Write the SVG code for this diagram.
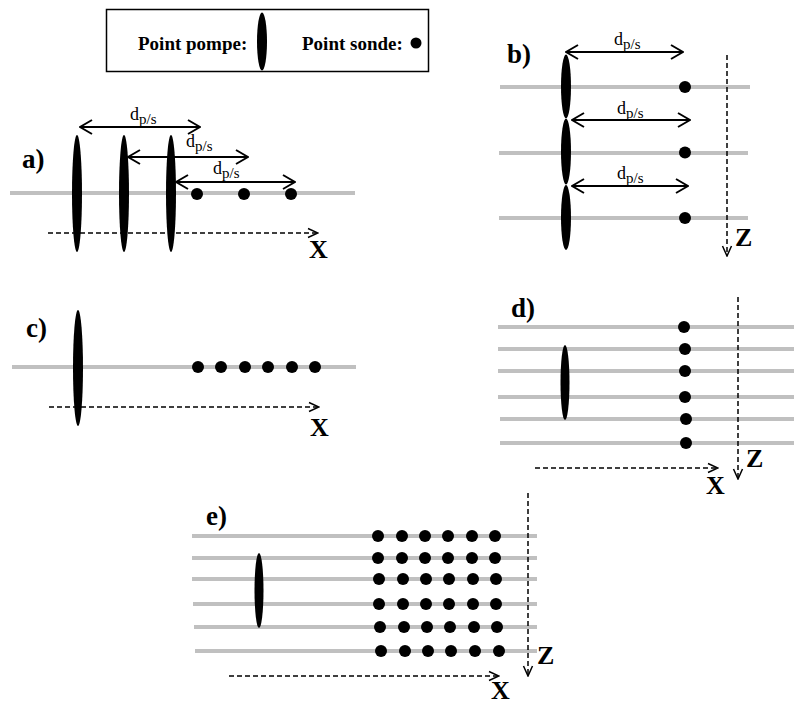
<svg xmlns="http://www.w3.org/2000/svg" width="794" height="704" viewBox="0 0 794 704">
<style>
text{font-family:'Liberation Serif','Times New Roman',serif}
.lbl{font-weight:bold;fill:#000}
.leg{font-size:19px}
.pn{font-size:27px}
.ax{font-size:26px}
.d{font-size:18px;fill:#000}
.sub{font-size:15px}
.beam{stroke:#c0c0c0;stroke-width:4;fill:none}
.pump{fill:#000}
.probe{fill:#000}
.dim{stroke:#000;stroke-width:2;fill:none;marker-start:url(#ah);marker-end:url(#ah)}
.axis{stroke:#000;stroke-width:1.5;stroke-dasharray:5 3;fill:none;marker-end:url(#ax)}
</style>
<defs>
<marker id="ah" markerUnits="userSpaceOnUse" markerWidth="14" markerHeight="16" viewBox="0 0 14 16" refX="13" refY="8" orient="auto-start-reverse">
<path d="M1,1 L13,8 L1,15" fill="none" stroke="#000" stroke-width="2"/>
</marker>
<marker id="ax" markerUnits="userSpaceOnUse" markerWidth="12" markerHeight="12" viewBox="0 0 12 12" refX="11" refY="6" orient="auto">
<path d="M1,1.5 L11,6 L1,10.5" fill="none" stroke="#000" stroke-width="1.5"/>
</marker>
</defs>
<rect width="794" height="704" fill="#fff"/>

<g id="legend">
<rect x="106.5" y="9.5" width="322" height="62" fill="#fff" stroke="#000" stroke-width="1.5"/>
<text class="lbl leg" x="138" y="50">Point pompe:</text>
<ellipse class="pump" cx="262" cy="41.5" rx="5" ry="29"/>
<text class="lbl leg" x="302" y="50">Point sonde:</text>
<circle class="probe" cx="416" cy="43" r="5.5"/>
</g>

<g id="panel-a">
<text class="lbl pn" x="22" y="168">a)</text>
<line class="beam" x1="10" y1="193" x2="355" y2="193"/>
<ellipse class="pump" cx="77" cy="193.5" rx="5" ry="58.5"/>
<ellipse class="pump" cx="124" cy="193.5" rx="5" ry="58.5"/>
<ellipse class="pump" cx="171" cy="193.5" rx="5" ry="58.5"/>
<circle class="probe" cx="197" cy="194" r="6"/>
<circle class="probe" cx="244" cy="194" r="6"/>
<circle class="probe" cx="291" cy="194" r="6"/>
<text class="d" x="130" y="120">d<tspan class="sub" dy="4">p/s</tspan></text>
<text class="d" x="186" y="147">d<tspan class="sub" dy="4">p/s</tspan></text>
<text class="d" x="213" y="174">d<tspan class="sub" dy="4">p/s</tspan></text>
<text class="lbl ax" x="309" y="258">X</text>
</g>

<g id="panel-b">
<text class="lbl pn" x="507" y="63">b)</text>
<line class="beam" x1="500" y1="87" x2="750" y2="87"/>
<line class="beam" x1="499" y1="153" x2="748" y2="153"/>
<line class="beam" x1="499" y1="218" x2="748" y2="218"/>
<ellipse class="pump" cx="566" cy="86.5" rx="5" ry="32"/>
<ellipse class="pump" cx="566" cy="151.5" rx="5" ry="33"/>
<ellipse class="pump" cx="566" cy="217.5" rx="5" ry="32.5"/>
<circle class="probe" cx="685" cy="87" r="6"/>
<circle class="probe" cx="685" cy="152.5" r="6"/>
<circle class="probe" cx="685" cy="218" r="6"/>
<text class="d" x="614" y="45">d<tspan class="sub" dy="4">p/s</tspan></text>
<text class="d" x="617" y="114">d<tspan class="sub" dy="4">p/s</tspan></text>
<text class="d" x="617" y="179">d<tspan class="sub" dy="4">p/s</tspan></text>
<text class="lbl ax" x="735" y="246">Z</text>
</g>

<g id="panel-c">
<text class="lbl pn" x="26" y="337">c)</text>
<line class="beam" x1="12" y1="367" x2="356" y2="367"/>
<ellipse class="pump" cx="78" cy="368" rx="5" ry="58"/>
<circle class="probe" cx="198" cy="367" r="6"/>
<circle class="probe" cx="221" cy="367" r="6"/>
<circle class="probe" cx="245" cy="367" r="6"/>
<circle class="probe" cx="268" cy="367" r="6"/>
<circle class="probe" cx="292" cy="367" r="6"/>
<circle class="probe" cx="315" cy="367" r="6"/>
<text class="lbl ax" x="310" y="436">X</text>
</g>

<g id="panel-d">
<text class="lbl pn" x="511" y="317">d)</text>
<line class="beam" x1="498" y1="327" x2="794" y2="327"/>
<line class="beam" x1="498" y1="349" x2="794" y2="349"/>
<line class="beam" x1="498" y1="371" x2="794" y2="371"/>
<line class="beam" x1="498" y1="397" x2="794" y2="397"/>
<line class="beam" x1="500" y1="419" x2="794" y2="419"/>
<line class="beam" x1="500" y1="443" x2="794" y2="443"/>
<ellipse class="pump" cx="565" cy="382.5" rx="4.5" ry="37.5"/>
<circle class="probe" cx="684" cy="327" r="6"/>
<circle class="probe" cx="685" cy="349" r="6"/>
<circle class="probe" cx="685" cy="371" r="6"/>
<circle class="probe" cx="685" cy="397" r="6"/>
<circle class="probe" cx="686" cy="419" r="6"/>
<circle class="probe" cx="686" cy="443" r="6"/>
<text class="lbl ax" x="746" y="467">Z</text>
<text class="lbl ax" x="706" y="494">X</text>
</g>

<g id="panel-e">
<text class="lbl pn" x="206" y="525">e)</text>
<line class="beam" x1="192" y1="536" x2="537" y2="536"/>
<line class="beam" x1="192" y1="558" x2="537" y2="558"/>
<line class="beam" x1="192" y1="579" x2="537" y2="579"/>
<line class="beam" x1="193" y1="604" x2="537" y2="604"/>
<line class="beam" x1="194" y1="627" x2="537" y2="627"/>
<line class="beam" x1="195" y1="651" x2="537" y2="651"/>
<ellipse class="pump" cx="259" cy="590.5" rx="4.5" ry="37.5"/>
<g id="probe-grid">
<circle class="probe" cx="378" cy="536" r="6"/><circle class="probe" cx="402" cy="536" r="6"/><circle class="probe" cx="425" cy="536" r="6"/><circle class="probe" cx="448" cy="536" r="6"/><circle class="probe" cx="472" cy="536" r="6"/><circle class="probe" cx="495" cy="536" r="6"/>
<circle class="probe" cx="378" cy="558" r="6"/><circle class="probe" cx="402" cy="558" r="6"/><circle class="probe" cx="425" cy="558" r="6"/><circle class="probe" cx="448" cy="558" r="6"/><circle class="probe" cx="472" cy="558" r="6"/><circle class="probe" cx="495" cy="558" r="6"/>
<circle class="probe" cx="379" cy="579" r="6"/><circle class="probe" cx="403" cy="579" r="6"/><circle class="probe" cx="426" cy="579" r="6"/><circle class="probe" cx="449" cy="579" r="6"/><circle class="probe" cx="473" cy="579" r="6"/><circle class="probe" cx="496" cy="579" r="6"/>
<circle class="probe" cx="379" cy="604" r="6"/><circle class="probe" cx="403" cy="604" r="6"/><circle class="probe" cx="426" cy="604" r="6"/><circle class="probe" cx="449" cy="604" r="6"/><circle class="probe" cx="473" cy="604" r="6"/><circle class="probe" cx="496" cy="604" r="6"/>
<circle class="probe" cx="380" cy="627" r="6"/><circle class="probe" cx="404" cy="627" r="6"/><circle class="probe" cx="427" cy="627" r="6"/><circle class="probe" cx="450" cy="627" r="6"/><circle class="probe" cx="474" cy="627" r="6"/><circle class="probe" cx="497" cy="627" r="6"/>
<circle class="probe" cx="381" cy="651" r="6"/><circle class="probe" cx="405" cy="651" r="6"/><circle class="probe" cx="428" cy="651" r="6"/><circle class="probe" cx="451" cy="651" r="6"/><circle class="probe" cx="475" cy="651" r="6"/><circle class="probe" cx="499" cy="651" r="6"/>
</g>
<text class="lbl ax" x="537" y="664">Z</text>
<text class="lbl ax" x="491" y="699">X</text>
</g>

<g id="connectors">
<line class="dim" x1="80" y1="127" x2="200" y2="127"/>
<line class="dim" x1="128" y1="157" x2="248" y2="157"/>
<line class="dim" x1="176" y1="182" x2="295" y2="182"/>
<line class="axis" x1="48" y1="233" x2="318" y2="233"/>
<line class="dim" x1="566" y1="52" x2="683" y2="52"/>
<line class="dim" x1="572" y1="120" x2="690" y2="120"/>
<line class="dim" x1="572" y1="186" x2="688" y2="186"/>
<line class="axis" x1="727" y1="55" x2="727" y2="256"/>
<line class="axis" x1="49" y1="407" x2="319" y2="407"/>
<line class="axis" x1="738" y1="297" x2="738" y2="479"/>
<line class="axis" x1="535" y1="468" x2="718" y2="468"/>
<line class="axis" x1="528" y1="493" x2="528" y2="676"/>
<line class="axis" x1="229" y1="676" x2="499" y2="676"/>
</g>
</svg>
